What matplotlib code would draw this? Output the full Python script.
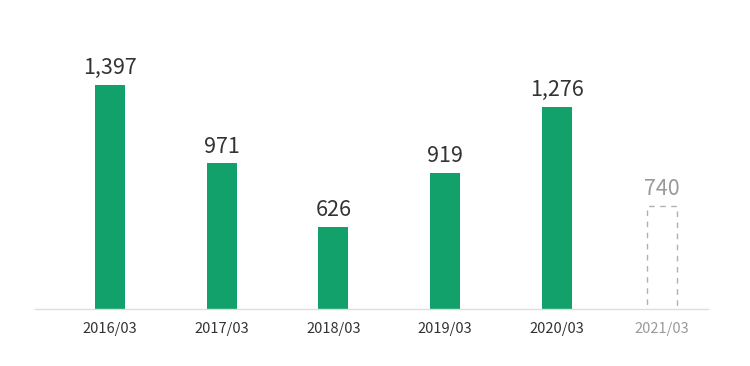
import matplotlib
matplotlib.use("Agg")
import matplotlib.pyplot as plt

plt.rcParams['font.family'] = ['Noto Sans CJK JP', 'DejaVu Sans']

# data
periods = ["2016/03", "2017/03", "2018/03", "2019/03", "2020/03", "2021/03"]
values = [1397, 971, 626, 919, 1276, 740]
is_forecast = [False, False, False, False, False, True]

green = "#12a06b"
dark = "#333333"
grey = "#9a9a9a"

fig = plt.figure(figsize=(7.5, 3.66), dpi=100)
ax = fig.add_axes([35 / 750, (366 - 309.3) / 366, 673 / 750, 289.3 / 366])

# forecast bar sits a little closer to the previous one
x = [i - (0.055 if fc else 0) for i, fc in enumerate(is_forecast)]
for xi, v, fc in zip(x, values, is_forecast):
    if fc:
        ax.bar(xi, v, width=0.27, facecolor="none", edgecolor="#b0b0b0",
               linestyle=(0, (4, 4)), linewidth=1)
        col = grey
    else:
        ax.bar(xi, v, width=0.27, color=green)
        col = dark
    ax.annotate(f"{v:,}", (xi, v), xytext=(0, 4), textcoords="offset points",
                ha="center", va="bottom", fontsize=15.5, color=col)

ax.set_ylim(178, 1748)
ax.set_xlim(-0.672, 5.356)

ax.set_xticks(x)
ax.set_xticklabels(periods, fontsize=10.5)
for lbl, fc in zip(ax.get_xticklabels(), is_forecast):
    lbl.set_color(grey if fc else dark)
ax.tick_params(axis="x", length=0, pad=9)
ax.set_yticks([])

for s in ["top", "right", "left"]:
    ax.spines[s].set_visible(False)
ax.spines["bottom"].set_color("#dddddd")
ax.spines["bottom"].set_linewidth(1)

fig.savefig("out.png", dpi=100)
